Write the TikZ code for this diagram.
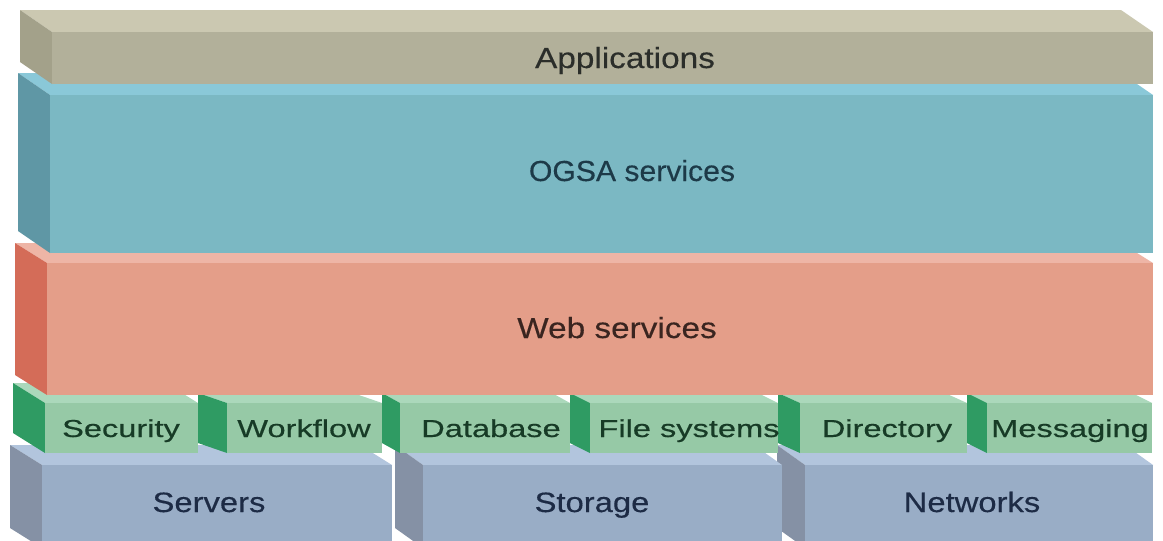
\documentclass[tikz,border=0pt]{standalone}
\usepackage{fontspec}
\setmainfont{Liberation Sans}
\newfontfamily\layerfont[FakeStretch=1.15,FakeBold=0.35]{Liberation Sans}
\newfontfamily\ogsafont[FakeStretch=1.04,FakeBold=0.35]{Liberation Sans}
\newfontfamily\tilefont[FakeStretch=1.33,FakeBold=0.45]{Liberation Sans}
\newfontfamily\blockfont[FakeStretch=1.17,FakeBold=0.4]{Liberation Sans}

% colours of the slabs: top face, front face, left side face
\definecolor{appTop}{HTML}{CBC8B1}
\definecolor{appFront}{HTML}{B2B09A}
\definecolor{appSide}{HTML}{A3A18A}
\definecolor{ogsaTop}{HTML}{8AC8D8}
\definecolor{ogsaFront}{HTML}{7BB8C3}
\definecolor{ogsaSide}{HTML}{5F97A5}
\definecolor{webTop}{HTML}{EEB5A6}
\definecolor{webFront}{HTML}{E49E89}
\definecolor{webSide}{HTML}{D46C58}
\definecolor{tileTop}{HTML}{ABD8BB}
\definecolor{tileFront}{HTML}{96C9A6}
\definecolor{tileSide}{HTML}{2F9B63}
\definecolor{blockTop}{HTML}{B2C5DD}
\definecolor{blockFront}{HTML}{99ADC6}
\definecolor{blockSide}{HTML}{8591A5}
\definecolor{appText}{HTML}{2B2E2A}
\definecolor{ogsaText}{HTML}{1D3A48}
\definecolor{webText}{HTML}{3A2520}
\definecolor{tileText}{HTML}{173B26}
\definecolor{blockText}{HTML}{1D2B45}

% a box seen from above-left:
% #1 back-left x, #2 front-left x, #3 right x, #4 front top y,
% #5 depth rise, #6 bottom y, #7 top, #8 front, #9 side colour
\newcommand{\layerslab}[9]{%
  \fill[#7] (#1,#4-#5) -- (#3-#2+#1,#4-#5) -- (#3,#4) -- (#2,#4) -- cycle;
  \fill[#9] (#1,#4-#5) -- (#2,#4) -- (#2,#6) -- (#1,#6-#5) -- cycle;
  \fill[#8] (#2,#4) rectangle (#3,#6);
}

\tikzset{
  lbl/.style={inner sep=0pt, anchor=base},
  toplbl/.style={lbl, font=\layerfont\fontsize{29}{34}\selectfont},
  tilelbl/.style={lbl, text=tileText, font=\tilefont\fontsize{24.5}{29}\selectfont},
  blocklbl/.style={lbl, text=blockText, font=\blockfont\fontsize{28}{33}\selectfont}
}

\begin{document}
\begin{tikzpicture}[x=1pt,y=-1pt]
\useasboundingbox (0,0) rectangle (1163,541);
\clip (0,0) rectangle (1163,541);
\fill[white] (0,0) rectangle (1163,541);

% resources: servers, storage, networks (drawn right to left)
\layerslab{777}{805}{1153}{465}{20}{548}{blockTop}{blockFront}{blockSide}
\layerslab{395}{423}{782}{465}{20}{548}{blockTop}{blockFront}{blockSide}
\layerslab{10}{42}{392}{465}{20}{548}{blockTop}{blockFront}{blockSide}

% infrastructure tiles (drawn right to left)
\layerslab{967}{987}{1152}{403}{10}{453}{tileTop}{tileFront}{tileSide}
\layerslab{778}{800}{967}{403}{10}{453}{tileTop}{tileFront}{tileSide}
\layerslab{570}{590}{778}{403}{10}{453}{tileTop}{tileFront}{tileSide}
\layerslab{382}{400}{570}{403}{10}{453}{tileTop}{tileFront}{tileSide}
\layerslab{198}{227}{382}{403}{10}{453}{tileTop}{tileFront}{tileSide}
\layerslab{13}{45}{198}{403}{20}{453}{tileTop}{tileFront}{tileSide}

% web services, OGSA services, applications
\layerslab{15}{47}{1153}{263}{20}{395}{webTop}{webFront}{webSide}
\layerslab{18}{50}{1153}{95}{22}{253}{ogsaTop}{ogsaFront}{ogsaSide}
\layerslab{20}{52}{1153}{32}{22}{84}{appTop}{appFront}{appSide}

% labels
\node[toplbl, text=appText] (apps) at (625,68) {Applications};
\node[lbl, text=ogsaText, font=\ogsafont\fontsize{29}{34}\selectfont] (ogsa) at (632,181) {OGSA services};
\node[toplbl, text=webText] (web) at (617,338) {Web services};

\node[tilelbl] (security) at (121,437) {Security};
\node[tilelbl] (workflow) at (304,437) {Workflow};
\node[tilelbl] (database) at (491,437) {Database};
\node[tilelbl] (files) at (689,437) {File systems};
\node[tilelbl] (directory) at (887,437) {Directory};
\node[tilelbl] (messaging) at (1070,437) {Messaging};

\node[blocklbl] (servers) at (209,512) {Servers};
\node[blocklbl] (storage) at (592,512) {Storage};
\node[blocklbl] (networks) at (972,512) {Networks};
\end{tikzpicture}
\end{document}
